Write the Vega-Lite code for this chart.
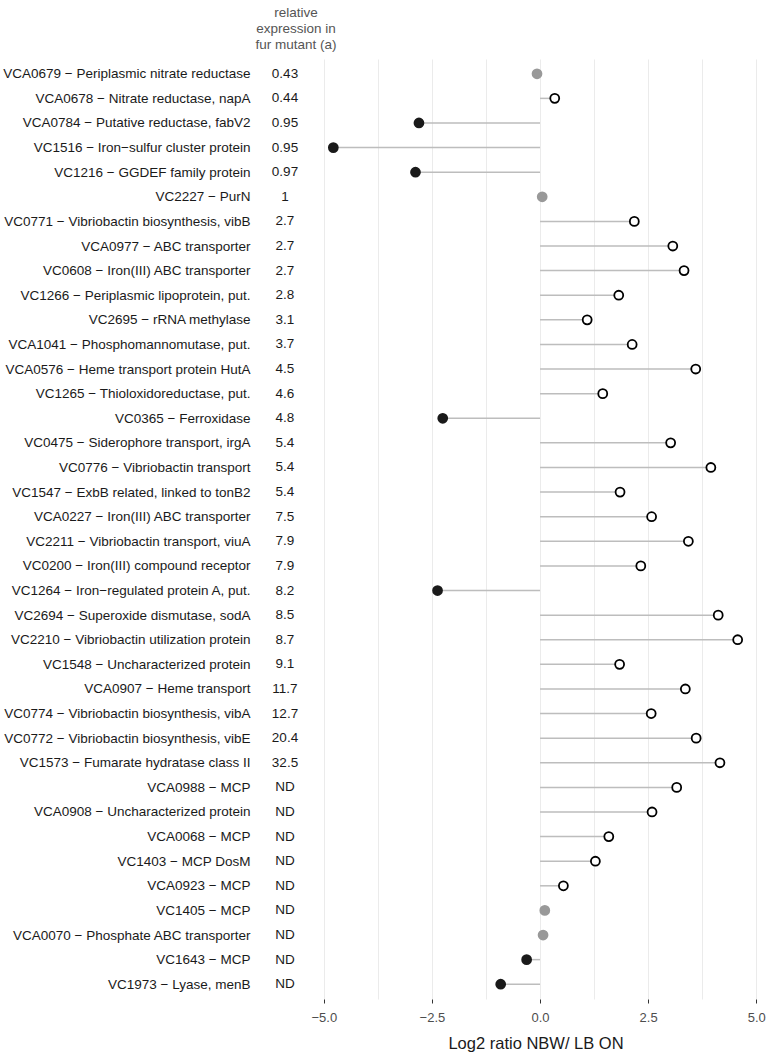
{
  "$schema": "https://vega.github.io/schema/vega-lite/v6.json",
  "padding": {"top": 5, "left": 2, "right": 0, "bottom": 0},
  "bounds": "flush",
  "config": {"view": {"stroke": null}, "font": "Liberation Sans"},
  "data": {"values": [
    {"gene": "VCA0679 − Periplasmic nitrate reductase", "rel": "0.43", "log2": -0.07, "sig": "ns"},
    {"gene": "VCA0678 − Nitrate reductase, napA", "rel": "0.44", "log2": 0.34, "sig": "up"},
    {"gene": "VCA0784 − Putative reductase, fabV2", "rel": "0.95", "log2": -2.80, "sig": "down"},
    {"gene": "VC1516 − Iron−sulfur cluster protein", "rel": "0.95", "log2": -4.78, "sig": "down"},
    {"gene": "VC1216 − GGDEF family protein", "rel": "0.97", "log2": -2.88, "sig": "down"},
    {"gene": "VC2227 − PurN", "rel": "1", "log2": 0.05, "sig": "ns"},
    {"gene": "VC0771 − Vibriobactin biosynthesis, vibB", "rel": "2.7", "log2": 2.18, "sig": "up"},
    {"gene": "VCA0977 − ABC transporter", "rel": "2.7", "log2": 3.07, "sig": "up"},
    {"gene": "VC0608 − Iron(III) ABC transporter", "rel": "2.7", "log2": 3.33, "sig": "up"},
    {"gene": "VC1266 − Periplasmic lipoprotein, put.", "rel": "2.8", "log2": 1.82, "sig": "up"},
    {"gene": "VC2695 − rRNA methylase", "rel": "3.1", "log2": 1.09, "sig": "up"},
    {"gene": "VCA1041 − Phosphomannomutase, put.", "rel": "3.7", "log2": 2.13, "sig": "up"},
    {"gene": "VCA0576 − Heme transport protein HutA", "rel": "4.5", "log2": 3.60, "sig": "up"},
    {"gene": "VC1265 − Thioloxidoreductase, put.", "rel": "4.6", "log2": 1.45, "sig": "up"},
    {"gene": "VC0365 − Ferroxidase", "rel": "4.8", "log2": -2.25, "sig": "down"},
    {"gene": "VC0475 − Siderophore transport, irgA", "rel": "5.4", "log2": 3.02, "sig": "up"},
    {"gene": "VC0776 − Vibriobactin transport", "rel": "5.4", "log2": 3.95, "sig": "up"},
    {"gene": "VC1547 − ExbB related, linked to tonB2", "rel": "5.4", "log2": 1.85, "sig": "up"},
    {"gene": "VCA0227 − Iron(III) ABC transporter", "rel": "7.5", "log2": 2.58, "sig": "up"},
    {"gene": "VC2211 − Vibriobactin transport, viuA", "rel": "7.9", "log2": 3.43, "sig": "up"},
    {"gene": "VC0200 − Iron(III) compound receptor", "rel": "7.9", "log2": 2.33, "sig": "up"},
    {"gene": "VC1264 − Iron−regulated protein A, put.", "rel": "8.2", "log2": -2.37, "sig": "down"},
    {"gene": "VC2694 − Superoxide dismutase, sodA", "rel": "8.5", "log2": 4.12, "sig": "up"},
    {"gene": "VC2210 − Vibriobactin utilization protein", "rel": "8.7", "log2": 4.57, "sig": "up"},
    {"gene": "VC1548 − Uncharacterized protein", "rel": "9.1", "log2": 1.84, "sig": "up"},
    {"gene": "VCA0907 − Heme transport", "rel": "11.7", "log2": 3.36, "sig": "up"},
    {"gene": "VC0774 − Vibriobactin biosynthesis, vibA", "rel": "12.7", "log2": 2.57, "sig": "up"},
    {"gene": "VC0772 − Vibriobactin biosynthesis, vibE", "rel": "20.4", "log2": 3.61, "sig": "up"},
    {"gene": "VC1573 − Fumarate hydratase class II", "rel": "32.5", "log2": 4.16, "sig": "up"},
    {"gene": "VCA0988 − MCP", "rel": "ND", "log2": 3.16, "sig": "up"},
    {"gene": "VCA0908 − Uncharacterized protein", "rel": "ND", "log2": 2.59, "sig": "up"},
    {"gene": "VCA0068 − MCP", "rel": "ND", "log2": 1.59, "sig": "up"},
    {"gene": "VC1403 − MCP DosM", "rel": "ND", "log2": 1.28, "sig": "up"},
    {"gene": "VCA0923 − MCP", "rel": "ND", "log2": 0.54, "sig": "up"},
    {"gene": "VC1405 − MCP", "rel": "ND", "log2": 0.11, "sig": "ns"},
    {"gene": "VCA0070 − Phosphate ABC transporter", "rel": "ND", "log2": 0.07, "sig": "ns"},
    {"gene": "VC1643 − MCP", "rel": "ND", "log2": -0.31, "sig": "down"},
    {"gene": "VC1973 − Lyase, menB", "rel": "ND", "log2": -0.91, "sig": "down"}
  ]},
  "spacing": 1,
  "hconcat": [
    {
      "width": 54,
      "height": 940,
      "title": {"text": ["relative", "expression in", "fur mutant (a)"], "frame": "group", "anchor": "middle", "dx": 11, "fontSize": 13.5, "fontWeight": "normal", "color": "#555555", "lineHeight": 16, "offset": 8},
      "mark": {"type": "text", "fontSize": 13.5, "color": "#1a1a1a", "align": "center", "baseline": "middle"},
      "encoding": {
        "y": {"field": "gene", "type": "nominal", "sort": null,
              "scale": {"type": "point", "padding": 0.6},
              "axis": {"title": null, "ticks": false, "domain": false, "grid": false, "labelFontSize": 13.5, "labelColor": "#1a1a1a", "labelPadding": 8, "labelLimit": 400}},
        "text": {"field": "rel"}
      }
    },
    {
      "width": 445,
      "height": 940,
      "layer": [
        {
          "mark": {"type": "rule", "color": "#bdbdbd", "strokeWidth": 1.5},
          "encoding": {
            "y": {"field": "gene", "type": "nominal", "sort": null, "scale": {"type": "point", "padding": 0.6}, "axis": null},
            "x": {"field": "log2", "type": "quantitative",
                  "scale": {"domain": [-5.25, 5.04], "nice": false, "zero": false},
                  "axis": {"title": "Log2 ratio NBW/ LB ON", "titleFontSize": 16.5, "titleFontWeight": "normal", "titleColor": "#1a1a1a", "titlePadding": 11,
                           "values": [-5, -3.75, -2.5, -1.25, 0, 1.25, 2.5, 3.75, 5],
                           "labelExpr": "datum.value % 2.5 === 0 ? format(datum.value, '.1f') : ''",
                           "labelFontSize": 13, "labelColor": "#4d4d4d", "labelPadding": 8, "labelFlush": false,
                           "domain": false, "grid": true, "gridColor": "#ebebeb", "gridWidth": 1,
                           "tickSize": 4, "tickColor": {"condition": {"test": "datum.value % 2.5 === 0", "value": "#333333"}, "value": "transparent"}}},
            "x2": {"datum": 0}
          }
        },
        {
          "mark": {"type": "point", "shape": "circle", "size": 80, "strokeWidth": 1.8, "opacity": 1},
          "encoding": {
            "y": {"field": "gene", "type": "nominal", "sort": null},
            "x": {"field": "log2", "type": "quantitative"},
            "fill": {"field": "sig", "type": "nominal", "scale": {"domain": ["up", "down", "ns"], "range": ["#ffffff", "#1a1a1a", "#999999"]}, "legend": null},
            "stroke": {"field": "sig", "type": "nominal", "scale": {"domain": ["up", "down", "ns"], "range": ["#000000", "#1a1a1a", "#999999"]}, "legend": null}
          }
        }
      ]
    }
  ]
}
